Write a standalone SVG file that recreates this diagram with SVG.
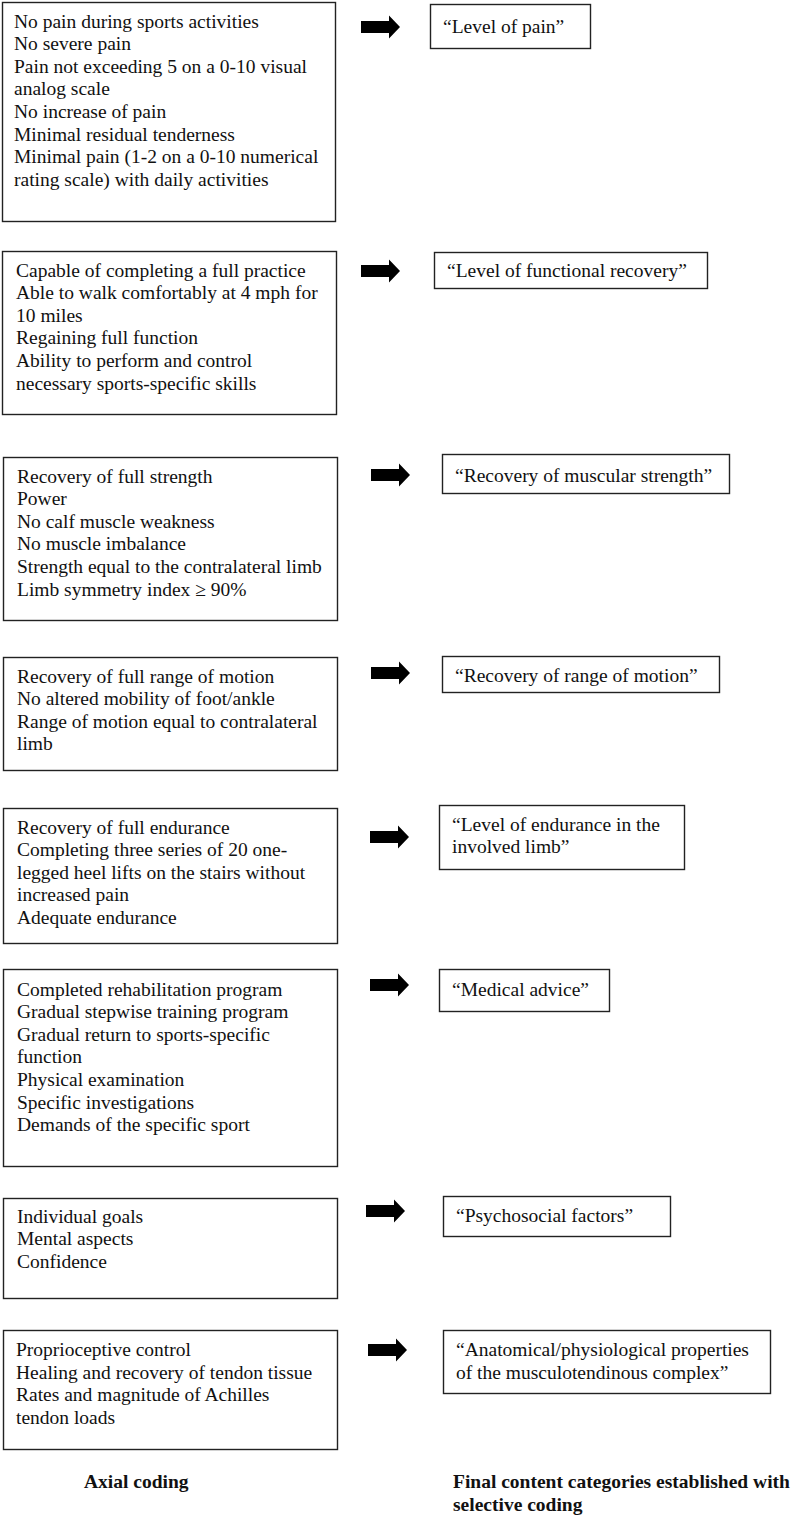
<svg xmlns="http://www.w3.org/2000/svg" width="798" height="1518" viewBox="0 0 798 1518">
<style>
.box{fill:#fff;stroke:#222;stroke-width:1.4}
.t{font-family:"Liberation Serif","Times New Roman",serif;font-size:19.5px;fill:#111}
.b{font-family:"Liberation Serif","Times New Roman",serif;font-size:19.5px;font-weight:bold;fill:#111}
.arr{fill:#000}
</style>
<defs>
<path id="arrow" class="arr" d="M0 -6 H28 V-11.5 L39 0 L28 11.5 V6 H0 Z"/>
</defs>
<rect width="798" height="1518" fill="#fff"/>

<g id="axial1">
<rect class="box" x="2.5" y="2.5" width="333" height="219"/>
<text class="t" x="14" y="27.5">No pain during sports activities</text>
<text class="t" x="14" y="50.1">No severe pain</text>
<text class="t" x="14" y="72.7">Pain not exceeding 5 on a 0-10 visual</text>
<text class="t" x="14" y="95.3">analog scale</text>
<text class="t" x="14" y="117.9">No increase of pain</text>
<text class="t" x="14" y="140.5">Minimal residual tenderness</text>
<text class="t" x="14" y="163.1">Minimal pain (1-2 on a 0-10 numerical</text>
<text class="t" x="14" y="185.7">rating scale) with daily activities</text>
</g>
<g id="cat1">
<rect class="box" x="430.5" y="4.5" width="160" height="44"/>
<text class="t" x="443" y="32.5">“Level of pain”</text>
</g>

<g id="axial2">
<rect class="box" x="2.5" y="251.5" width="334" height="163"/>
<text class="t" x="16" y="276.5">Capable of completing a full practice</text>
<text class="t" x="16" y="299.1">Able to walk comfortably at 4 mph for</text>
<text class="t" x="16" y="321.7">10 miles</text>
<text class="t" x="16" y="344.3">Regaining full function</text>
<text class="t" x="16" y="366.9">Ability to perform and control</text>
<text class="t" x="16" y="389.5">necessary sports-specific skills</text>
</g>
<g id="cat2">
<rect class="box" x="434.5" y="252.5" width="273" height="36"/>
<text class="t" x="447" y="277">“Level of functional recovery”</text>
</g>

<g id="axial3">
<rect class="box" x="3.5" y="457.5" width="334" height="163"/>
<text class="t" x="17" y="482.5">Recovery of full strength</text>
<text class="t" x="17" y="505.1">Power</text>
<text class="t" x="17" y="527.7">No calf muscle weakness</text>
<text class="t" x="17" y="550.3">No muscle imbalance</text>
<text class="t" x="17" y="572.9">Strength equal to the contralateral limb</text>
<text class="t" x="17" y="595.5">Limb symmetry index ≥ 90%</text>
</g>
<g id="cat3">
<rect class="box" x="442.5" y="454.5" width="287" height="39"/>
<text class="t" x="455" y="482">“Recovery of muscular strength”</text>
</g>

<g id="axial4">
<rect class="box" x="3.5" y="657.5" width="334" height="113"/>
<text class="t" x="17" y="682.5">Recovery of full range of motion</text>
<text class="t" x="17" y="705.1">No altered mobility of foot/ankle</text>
<text class="t" x="17" y="727.7">Range of motion equal to contralateral</text>
<text class="t" x="17" y="750.3">limb</text>
</g>
<g id="cat4">
<rect class="box" x="442.5" y="656.5" width="277" height="36"/>
<text class="t" x="455" y="681.5">“Recovery of range of motion”</text>
</g>

<g id="axial5">
<rect class="box" x="3.5" y="808.5" width="334" height="135"/>
<text class="t" x="17" y="833.5">Recovery of full endurance</text>
<text class="t" x="17" y="856.1">Completing three series of 20 one-</text>
<text class="t" x="17" y="878.7">legged heel lifts on the stairs without</text>
<text class="t" x="17" y="901.3">increased pain</text>
<text class="t" x="17" y="923.9">Adequate endurance</text>
</g>
<g id="cat5">
<rect class="box" x="439.5" y="805.5" width="245" height="64"/>
<text class="t" x="452" y="830.5">“Level of endurance in the</text>
<text class="t" x="452" y="853.1">involved limb”</text>
</g>

<g id="axial6">
<rect class="box" x="3.5" y="969.5" width="334" height="197"/>
<text class="t" x="17" y="995.5">Completed rehabilitation program</text>
<text class="t" x="17" y="1018.1">Gradual stepwise training program</text>
<text class="t" x="17" y="1040.7">Gradual return to sports-specific</text>
<text class="t" x="17" y="1063.3">function</text>
<text class="t" x="17" y="1085.9">Physical examination</text>
<text class="t" x="17" y="1108.5">Specific investigations</text>
<text class="t" x="17" y="1131.1">Demands of the specific sport</text>
</g>
<g id="cat6">
<rect class="box" x="439.5" y="969.5" width="170" height="42"/>
<text class="t" x="452" y="995.5">“Medical advice”</text>
</g>

<g id="axial7">
<rect class="box" x="3.5" y="1198.5" width="334" height="100"/>
<text class="t" x="17" y="1222.5">Individual goals</text>
<text class="t" x="17" y="1245.1">Mental aspects</text>
<text class="t" x="17" y="1267.7">Confidence</text>
</g>
<g id="cat7">
<rect class="box" x="443.5" y="1196.5" width="227" height="40"/>
<text class="t" x="456" y="1222">“Psychosocial factors”</text>
</g>

<g id="axial8">
<rect class="box" x="3.5" y="1330.5" width="334" height="119"/>
<text class="t" x="16" y="1356">Proprioceptive control</text>
<text class="t" x="16" y="1378.6">Healing and recovery of tendon tissue</text>
<text class="t" x="16" y="1401.2">Rates and magnitude of Achilles</text>
<text class="t" x="16" y="1423.8">tendon loads</text>
</g>
<g id="cat8">
<rect class="box" x="443.5" y="1330.5" width="327" height="63"/>
<text class="t" x="456" y="1356">“Anatomical/physiological properties</text>
<text class="t" x="456" y="1378.6">of the musculotendinous complex”</text>
</g>

<g id="connectors">
<use href="#arrow" x="361" y="27"/>
<use href="#arrow" x="361" y="271"/>
<use href="#arrow" x="371" y="475"/>
<use href="#arrow" x="371" y="673"/>
<use href="#arrow" x="370" y="837"/>
<use href="#arrow" x="370" y="985"/>
<use href="#arrow" x="366" y="1211"/>
<use href="#arrow" x="368" y="1350"/>
</g>

<g id="labels">
<text class="b" x="84" y="1488">Axial coding</text>
<text class="b" x="453" y="1488">Final content categories established with</text>
<text class="b" x="453" y="1510.5">selective coding</text>
</g>
</svg>
